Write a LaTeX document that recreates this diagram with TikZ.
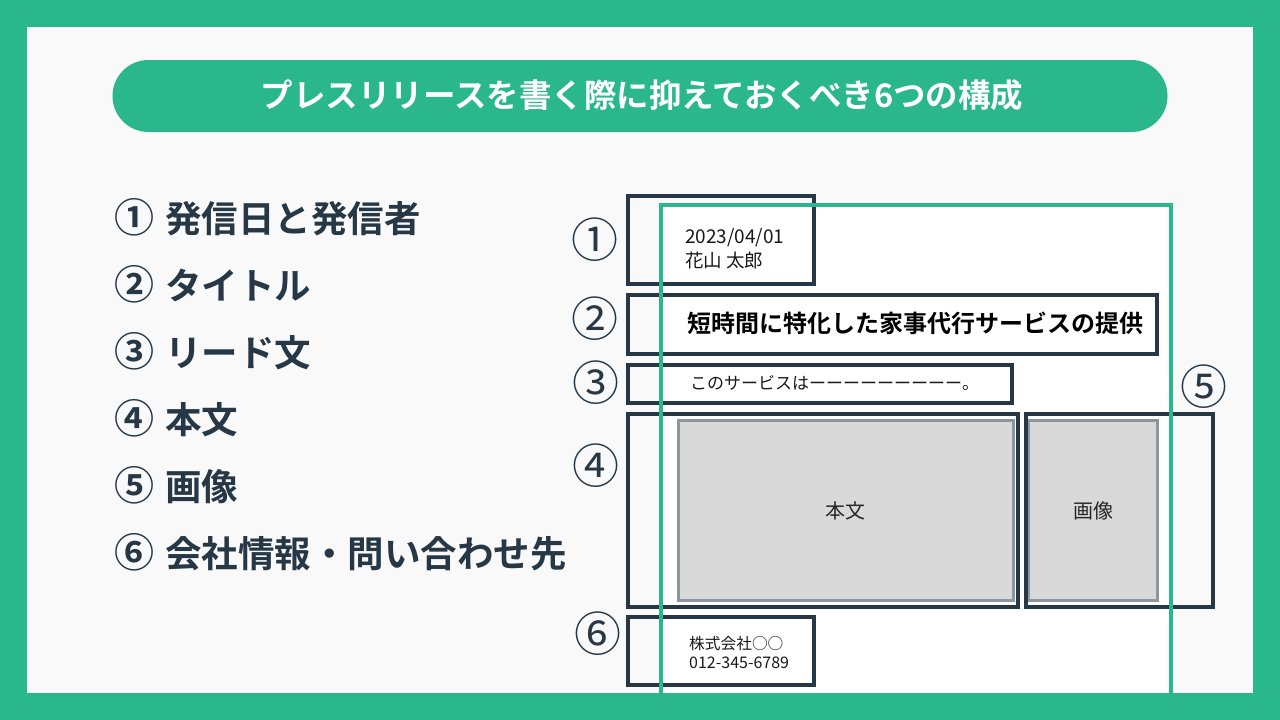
\documentclass[tikz,border=0pt]{standalone}
\usepackage{fontspec}
\setmainfont{Noto Sans CJK JP}[BoldFont={Noto Sans CJK JP Bold}]
\usepackage{xcolor}
\definecolor{brand}{HTML}{29B78B}
\definecolor{ink}{HTML}{263746}
\definecolor{pagebg}{HTML}{F9F9F9}
\definecolor{boxgray}{HTML}{D9D9D9}
\definecolor{boxline}{HTML}{8C969D}
\usetikzlibrary{positioning}
\newcommand{\sizept}[1]{\fontsize{#1pt}{#1pt}\selectfont}
\tikzset{
  frame/.style={draw=ink, line width=4pt, inner sep=0pt},
  graybox/.style={draw=boxline, fill=boxgray, line width=3pt, inner sep=0pt, text=black!85, font=\sizept{20}},
  listitem/.style={anchor=base west, inner sep=0pt, text=ink, font=\sizept{36.5}\bfseries},
  marknum/.style={anchor=base, inner sep=0pt, text=ink, font=\sizept{47}},
  sample/.style={anchor=base west, inner sep=0pt, text=black!90}
}

\begin{document}
\begin{tikzpicture}[x=1pt, y=-1pt]
		\useasboundingbox (0,0) rectangle (1280,720);
		%background
		\fill[brand] (0,0) rectangle (1280,720);
		\fill[pagebg] (27,27) rectangle (1253,693);

		%title
		\node[fill=brand, rounded corners=36pt, minimum width=1055pt, minimum height=72pt, inner sep=0pt] (titlepill) at (640,96) {};
		\node[anchor=base, inner sep=0pt, text=white, font=\sizept{32.5}\bfseries] (titletext) at (642,107.5) {プレスリリースを書く際に抑えておくべき6つの構成};

		%list
		\foreach \num/\lbl [count=\i] in {①/発信日と発信者,②/タイトル,③/リード文,④/本文,⑤/画像,⑥/会社情報・問い合わせ先}
		\node[listitem] (item\i) at (114,165+67*\i) {{\sizept{40}\num}\hspace{11pt}\lbl};

		%paper
		\fill[white] (661,205) rectangle (1171,693);
		\node[graybox, minimum width=335pt, minimum height=180pt] (bodybox) at (845.5,510.5) {本文};
		\node[graybox, minimum width=129pt, minimum height=180pt] (imagebox) at (1093,510.5) {画像};

		%sample texts
		\node[sample, font=\sizept{19}] (date) at (685,243) {2023/04/01};
		\node[sample, font=\sizept{18.5}] (sender) at (685,267) {花山 太郎};
		\node[sample, font=\sizept{24}\bfseries, text=black] (headline) at (687,332) {短時間に特化した家事代行サービスの提供};
		\node[sample, font=\sizept{17}] (lead) at (690,389.5) {このサービスはーーーーーーーーー。};
		\node[sample, font=\sizept{15.7}] (company) at (689,649) {株式会社○○};
		\node[sample, font=\sizept{16}] (phone) at (689,668) {012-345-6789};

		%frames
		\node[frame, minimum width=186pt, minimum height=88pt] (frame1) at (721,240) {};
		\node[frame, minimum width=529pt, minimum height=59pt] (frame2) at (892.5,324.2) {};
		\node[frame, minimum width=384pt, minimum height=38pt] (frame3) at (820,384) {};
		\node[frame, minimum width=390pt, minimum height=193pt] (frame4) at (823,510.5) {};
		\node[frame, minimum width=187pt, minimum height=193pt] (frame5) at (1119.5,510.5) {};
		\node[frame, minimum width=186pt, minimum height=68pt] (frame6) at (721,651) {};

		%paper edge over the frames
		\draw[brand, line width=4pt] (661,693) -- (661,205) -- (1171,205) -- (1171,693);

		%numbers
		\foreach \num/\x/\y [count=\i] in {①/595/239,②/595/318,③/596/382,④/596/465,⑤/1204/386,⑥/598/633}
		\node[marknum] (mark\i) at (\x,\y+18) {\num};
\end{tikzpicture}
\end{document}
